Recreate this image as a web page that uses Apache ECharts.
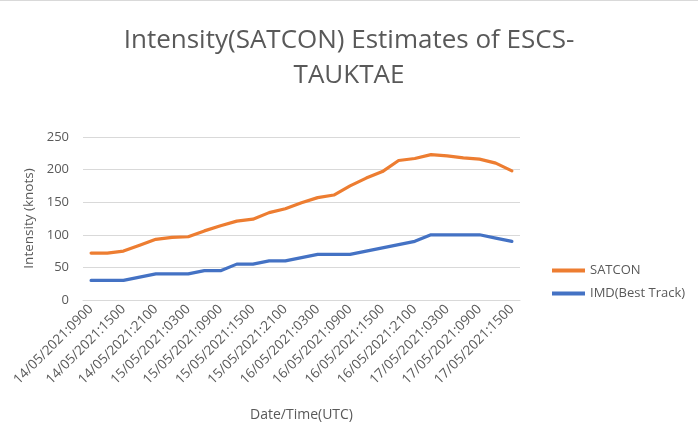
<!DOCTYPE html>
<html>
<head>
<meta charset="utf-8">
<script src="https://cdn.jsdelivr.net/npm/echarts@6/dist/echarts.min.js"></script>
<style>
    html, body { margin: 0; padding: 0; background: #fff; }
    #chart { width: 698px; height: 440px; box-sizing: border-box; border-top: 1px solid #d9d9d9; }
</style>
</head>
<body>
<div id="chart"></div>
<script>
// 3-hourly timestamps, 14/05 0900 to 17/05 1500
const categories = [
    '14/05/2021:0900', '14/05/2021:1200', '14/05/2021:1500', '14/05/2021:1800',
    '14/05/2021:2100', '15/05/2021:0000', '15/05/2021:0300', '15/05/2021:0600',
    '15/05/2021:0900', '15/05/2021:1200', '15/05/2021:1500', '15/05/2021:1800',
    '15/05/2021:2100', '16/05/2021:0000', '16/05/2021:0300', '16/05/2021:0600',
    '16/05/2021:0900', '16/05/2021:1200', '16/05/2021:1500', '16/05/2021:1800',
    '16/05/2021:2100', '17/05/2021:0000', '17/05/2021:0300', '17/05/2021:0600',
    '17/05/2021:0900', '17/05/2021:1200', '17/05/2021:1500'
];

const satcon = [72, 72, 75, 84, 93, 96, 97, 106, 114, 121, 124, 134, 140, 149,
    157, 161, 175, 187, 197, 214, 217, 223, 221, 218, 216, 210, 198];

const imdBestTrack = [30, 30, 30, 35, 40, 40, 40, 45, 45, 55, 55, 60, 60, 65,
    70, 70, 70, 75, 80, 85, 90, 100, 100, 100, 100, 95, 90];

const FONT = '"Open Sans", "Noto Sans", sans-serif';
const TEXT = '#595959';

const chart = echarts.init(document.getElementById('chart'));

chart.setOption({
    animation: false,
    title: {
        text: 'Intensity(SATCON) Estimates of ESCS-\nTAUKTAE',
        left: 'center',
        top: 17,
        textStyle: {
            color: TEXT,
            fontFamily: FONT,
            fontWeight: 'normal',
            fontSize: 26,
            lineHeight: 35
        }
    },
    legend: {
        orient: 'vertical',
        left: 547,
        top: 258,
        itemGap: 10,
        itemWidth: 33,
        itemHeight: 4,
        icon: 'rect',
        textStyle: { color: TEXT, fontFamily: FONT, fontSize: 13 },
        data: ['SATCON', 'IMD(Best Track)']
    },
    grid: { left: 83, right: 178, top: 136, bottom: 140 },
    xAxis: {
        type: 'category',
        data: categories,
        boundaryGap: true,
        name: 'Date/Time(UTC)',
        nameLocation: 'middle',
        nameGap: 108,
        nameTextStyle: { color: TEXT, fontFamily: FONT, fontSize: 14 },
        axisLine: { lineStyle: { color: '#d9d9d9' } },
        axisTick: { show: false },
        axisLabel: {
            interval: 1,
            rotate: 45,
            color: TEXT,
            fontFamily: FONT,
            fontSize: 13.5,
            margin: 7
        }
    },
    yAxis: {
        type: 'value',
        min: 0,
        max: 250,
        interval: 50,
        name: 'Intensity (knots)',
        nameLocation: 'middle',
        nameGap: 46,
        nameTextStyle: { color: TEXT, fontFamily: FONT, fontSize: 13.5 },
        axisLine: { show: false },
        axisTick: { show: false },
        axisLabel: { color: TEXT, fontFamily: FONT, fontSize: 13, margin: 14 },
        splitLine: { lineStyle: { color: '#d9d9d9' } }
    },
    series: [
        {
            name: 'SATCON',
            type: 'line',
            data: satcon,
            showSymbol: false,
            lineStyle: { color: '#ed7d31', width: 3.2, cap: 'round', join: 'round' },
            itemStyle: { color: '#ed7d31' }
        },
        {
            name: 'IMD(Best Track)',
            type: 'line',
            data: imdBestTrack,
            showSymbol: false,
            lineStyle: { color: '#4472c4', width: 3.2, cap: 'round', join: 'round' },
            itemStyle: { color: '#4472c4' }
        }
    ]
});
</script>
</body>
</html>
